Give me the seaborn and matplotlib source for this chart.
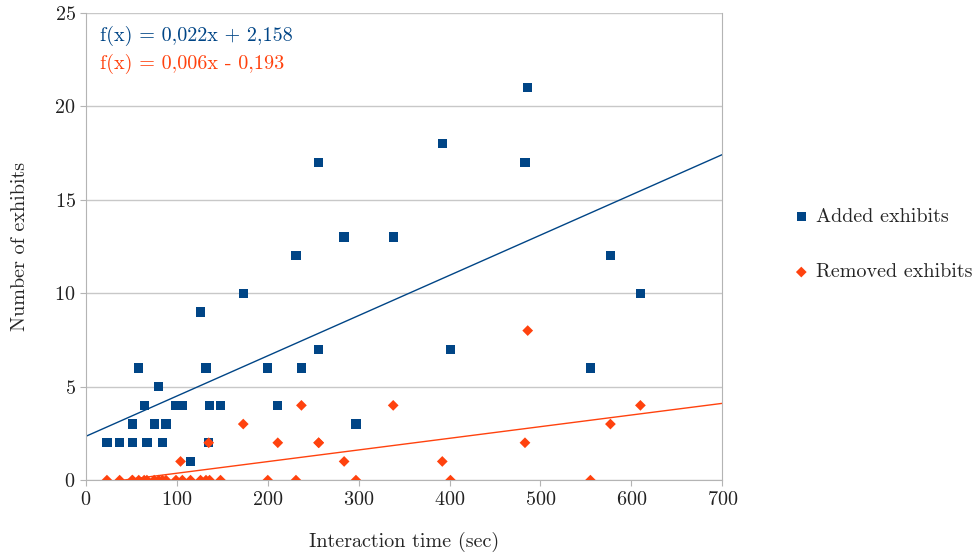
import numpy as np
import pandas as pd
import matplotlib
matplotlib.use("Agg")
import matplotlib.pyplot as plt
import seaborn as sns

# -----------------------
# Data
# -----------------------
interaction_time = [23, 37, 51, 51, 58, 64, 67, 75, 80, 84, 88, 99, 104, 106, 115,
                    126, 132, 135, 136, 148, 173, 200, 211, 231, 237, 256, 256,
                    284, 297, 338, 392, 401, 483, 486, 555, 577, 610]
added = [2, 2, 2, 3, 6, 4, 2, 3, 5, 2, 3, 4, 4, 4, 1,
         9, 6, 2, 4, 4, 10, 6, 4, 12, 6, 17, 7,
         13, 3, 13, 18, 7, 17, 21, 6, 12, 10]
removed = [0, 0, 0, 0, 0, 0, 0, 0, 0, 0, 0, 0, 1, 0, 0,
           0, 0, 2, 0, 0, 3, 0, 2, 0, 4, 2, 2,
           1, 0, 4, 1, 0, 2, 8, 0, 3, 4]

eq_added = "f(x) = 0,022x + 2,158"
eq_removed = "f(x) = 0,006x - 0,193"

blue = "#004586"
orange = "#ff420e"

df = pd.DataFrame({"time": interaction_time, "added": added, "removed": removed})

# -----------------------
# Plot
# -----------------------
sns.set_style("white")
plt.rcParams["font.family"] = ["cmr10", "DejaVu Serif"]
plt.rcParams["axes.formatter.use_mathtext"] = True
fs = 14.5

fig = plt.figure(figsize=(9.72, 5.57), dpi=100)
ax = fig.add_axes([0.0885, 0.138, 0.6545, 0.839])
ax.set_xlim(0, 700)
ax.set_ylim(0, 25)

# linear trend lines across the full x range
sns.regplot(data=df, x="time", y="added", scatter=False, ci=None, truncate=False,
            color=blue, line_kws={"lw": 1}, ax=ax)
sns.regplot(data=df, x="time", y="removed", scatter=False, ci=None, truncate=False,
            color=orange, line_kws={"lw": 1}, ax=ax)

sns.scatterplot(data=df, x="time", y="added", marker="s", s=45, color=blue,
                edgecolor="none", label="Added exhibits", ax=ax, zorder=3)
sns.scatterplot(data=df, x="time", y="removed", marker="D", s=30, color=orange,
                edgecolor="none", label="Removed exhibits", ax=ax, zorder=3)

ax.set_xlim(0, 700)
ax.set_ylim(0, 25)
ax.set_xticks(range(0, 701, 100))
ax.set_yticks(range(0, 26, 5))
ax.yaxis.grid(True, color="#c8c8c8", lw=1)
ax.set_axisbelow(True)
for s in ax.spines.values():
    s.set_color("#b4b4b4")
ax.spines["top"].set_visible(False)
ax.tick_params(axis="both", length=4, color="#b4b4b4", labelsize=fs,
               labelcolor="#222222", direction="out", bottom=True, left=True)

ax.set_xlabel("Interaction time (sec)", fontsize=fs, labelpad=17)
ax.set_ylabel("Number of exhibits", fontsize=fs, labelpad=18)

ax.text(0.022, 0.951, eq_added, transform=ax.transAxes, color=blue, fontsize=fs,
        va="center", ha="left")
ax.text(0.022, 0.891, eq_removed, transform=ax.transAxes, color=orange, fontsize=fs,
        va="center", ha="left")

ax.legend(loc="center left", bbox_to_anchor=(1.08, 0.504), frameon=False,
          fontsize=fs, labelspacing=1.85, handlelength=1.0, handletextpad=0.25)

fig.savefig("out.png", dpi=100)
